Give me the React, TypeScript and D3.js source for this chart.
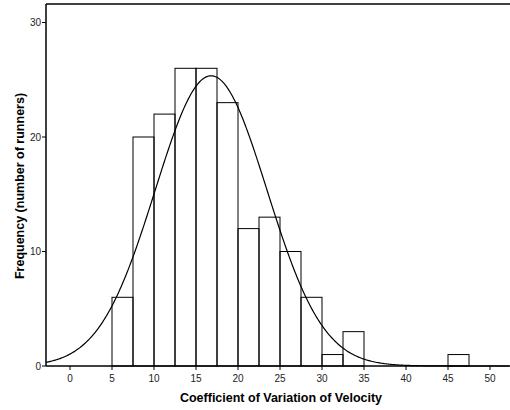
import React from "react";
import * as d3 from "d3";

const binStarts = [5, 7.5, 10, 12.5, 15, 17.5, 20, 22.5, 25, 27.5, 30, 32.5, 45];
const binCounts = [6, 20, 22, 26, 26, 23, 12, 13, 10, 6, 1, 3, 1];
const binWidth = 2.5;
const xTicks = [0, 5, 10, 15, 20, 25, 30, 35, 40, 45, 50];
const yTicks = [0, 10, 20, 30];
const curveMean = 16.8;
const curveSd = 6.65;
const totalN = binCounts.reduce((a, b) => a + b, 0);

export default function App() {
  const W = 510, H = 410;
  const left = 46, right = 509, top = 4, bottom = 366;
  const x = d3.scaleLinear().domain([0, 50]).range([70, 490]);
  const y = d3.scaleLinear().domain([0, 30]).range([366, 22.5]);
  const xMin = x.invert(left), xMax = x.invert(right);
  const pts: [number, number][] = d3.range(0, 401).map((i) => {
    const v = xMin + ((xMax - xMin) * i) / 400;
    const z = (v - curveMean) / curveSd;
    const dens = (totalN * binWidth) / (curveSd * Math.sqrt(2 * Math.PI)) * Math.exp(-0.5 * z * z);
    return [v, dens];
  });
  const line = d3.line<[number, number]>().x((d) => x(d[0])).y((d) => y(d[1])).curve(d3.curveLinear);
  const font = "'Liberation Sans', Arial, sans-serif";
  return (
    <svg width={W} height={H} style={{ position: "absolute", left: 0, top: 0, display: "block" }}>
      <rect x={0} y={0} width={W} height={H} fill="#fff" />
      {binStarts.map((s, i) => (
        <rect key={i} x={x(s)} y={y(binCounts[i])} width={x(s + binWidth) - x(s)} height={y(0) - y(binCounts[i])}
          fill="none" stroke="#000" strokeWidth={1} />
      ))}
      <path d={line(pts) || ""} fill="none" stroke="#000" strokeWidth={1.2} />
      <line x1={left} x2={510} y1={top} y2={top} stroke="#000" strokeWidth={1.5} />
      <line x1={left} x2={left} y1={top} y2={bottom} stroke="#000" strokeWidth={1.5} />
      <line x1={left} x2={510} y1={bottom} y2={bottom} stroke="#000" strokeWidth={1.5} />
      {yTicks.map((t) => (
        <g key={t}>
          <line x1={left - 4} x2={left} y1={y(t)} y2={y(t)} stroke="#000" strokeWidth={1} />
          <text x={left - 5} y={y(t)} dy="0.35em" textAnchor="end" fontSize={10} fontFamily={font} fill="#222">{t}</text>
        </g>
      ))}
      {xTicks.map((t) => (
        <g key={t}>
          <line x1={x(t)} x2={x(t)} y1={bottom} y2={bottom + 4} stroke="#000" strokeWidth={1} />
          <text x={x(t)} y={bottom + 16} textAnchor="middle" fontSize={10} fontFamily={font} fill="#222">{t}</text>
        </g>
      ))}
      <text x={281} y={402} textAnchor="middle" fontSize={12.5} fontWeight="bold" fontFamily={font} fill="#000">
        Coefficient of Variation of Velocity
      </text>
      <text transform={`translate(24,186) rotate(-90)`} textAnchor="middle" fontSize={12.5} fontWeight="bold" fontFamily={font} fill="#000">
        Frequency (number of runners)
      </text>
    </svg>
  );
}
